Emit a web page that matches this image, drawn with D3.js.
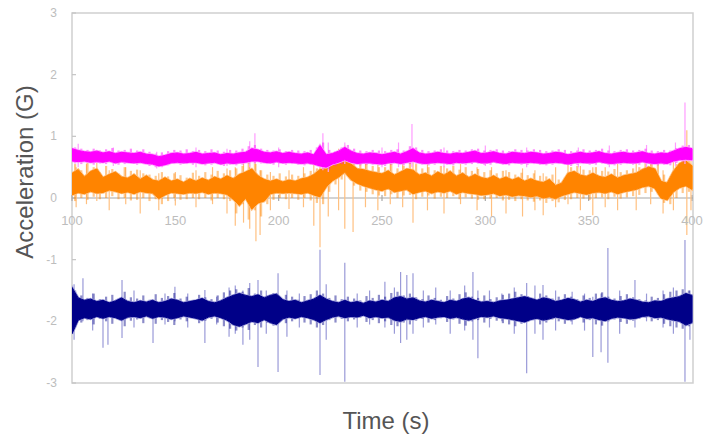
<!DOCTYPE html>
<html><head><meta charset="utf-8">
<script src="https://cdn.jsdelivr.net/npm/d3@7"></script>
<style>html,body{margin:0;padding:0;background:#fff;}svg{display:block;}</style>
</head><body>
<svg id="c" width="705" height="437"></svg>
<script>
// ---------- DATA ----------
const tStart = 100, tEnd = 400, tStep = 3;
const times = d3.range(tStart, tEnd + 0.1, tStep);        // core-band sampling grid, 101 stamps
const fuzzTimes = d3.range(tStart + 1.5, tEnd, tStep);    // in-between stamps, 100
const xTicks = [100, 150, 200, 250, 300, 350, 400];
const yTicks = [3, 2, 1, 0, -1, -2, -3];

// core band (upper / lower envelope) per series
const magentaHi = [0.80,0.77,0.75,0.74,0.76, 0.73,0.75,0.72,0.74,0.73, 0.72,0.74,0.71,0.70,0.67, 0.69,0.72,0.73,0.71,0.72,
  0.74,0.71,0.72,0.73,0.70, 0.72,0.71,0.73,0.74,0.80, 0.78,0.74,0.73,0.75,0.72, 0.74,0.72,0.71,0.73,0.70,
  0.85,0.70,0.72,0.76,0.82, 0.76,0.72,0.71,0.73,0.72, 0.70,0.72,0.74,0.71,0.75, 0.80,0.73,0.71,0.72,0.74,
  0.72,0.71,0.73,0.72,0.74, 0.76,0.72,0.73,0.75,0.72, 0.71,0.74,0.73,0.72,0.74, 0.73,0.71,0.72,0.74,0.73,
  0.70,0.72,0.74,0.72,0.73, 0.75,0.72,0.71,0.73,0.74, 0.72,0.73,0.75,0.72,0.71, 0.73,0.72,0.76,0.80,0.82, 0.80];
const magentaLo = [0.60,0.59,0.60,0.58,0.59, 0.58,0.60,0.57,0.59,0.58, 0.57,0.58,0.56,0.55,0.52, 0.54,0.57,0.58,0.57,0.58,
  0.58,0.56,0.57,0.58,0.55, 0.57,0.56,0.57,0.58,0.60, 0.60,0.58,0.57,0.59,0.57, 0.58,0.57,0.56,0.57,0.55,
  0.52,0.50,0.55,0.58,0.62, 0.58,0.56,0.57,0.57,0.56, 0.55,0.57,0.58,0.56,0.58, 0.60,0.57,0.56,0.57,0.58,
  0.57,0.56,0.58,0.57,0.58, 0.59,0.57,0.57,0.59,0.57, 0.56,0.58,0.57,0.57,0.58, 0.57,0.56,0.57,0.58,0.57,
  0.55,0.57,0.58,0.57,0.57, 0.59,0.57,0.56,0.57,0.58, 0.57,0.57,0.59,0.57,0.56, 0.57,0.56,0.60,0.62,0.63, 0.62];

const orangeHi = [0.40,0.46,0.34,0.43,0.47, 0.33,0.38,0.42,0.34,0.32, 0.38,0.30,0.36,0.29,0.27, 0.33,0.27,0.30,0.25,0.31,
  0.27,0.32,0.28,0.34,0.30, 0.36,0.31,0.38,0.42,0.47, 0.36,0.30,0.27,0.30,0.26, 0.29,0.27,0.31,0.33,0.38,
  0.46,0.47,0.55,0.60,0.68, 0.55,0.47,0.46,0.43,0.41, 0.39,0.44,0.37,0.42,0.47, 0.45,0.37,0.40,0.35,0.42,
  0.37,0.43,0.35,0.40,0.33, 0.38,0.33,0.31,0.36,0.30, 0.34,0.29,0.33,0.27,0.31, 0.27,0.25,0.30,0.20,0.24,
  0.40,0.43,0.37,0.35,0.40, 0.35,0.33,0.38,0.32,0.36, 0.38,0.40,0.46,0.50,0.47, 0.27,0.24,0.43,0.56,0.60, 0.52];
const orangeLo = [0.05,0.09,0.07,0.11,0.08, 0.09,0.13,0.11,0.08,0.10, 0.07,0.11,0.09,0.08,-0.01, 0.05,0.09,0.08,0.07,0.09,
  0.08,0.10,0.07,0.09,0.08, 0.06,-0.02,-0.12,0.00,-0.18, -0.08,-0.05,0.07,0.09,0.08, 0.09,0.08,0.07,0.09,0.05,
  0.02,0.18,0.28,0.34,0.42, 0.30,0.24,0.20,0.17,0.14, 0.12,0.16,0.10,0.12,0.14, 0.07,0.10,0.12,0.08,0.11,
  0.09,0.12,0.07,0.10,0.08, 0.07,0.05,0.06,0.08,0.04, 0.06,0.03,0.05,0.04,0.02, 0.04,0.00,0.02,-0.01,0.04,
  0.07,0.10,0.08,0.06,0.09, 0.10,0.08,0.11,0.07,0.10, 0.12,0.14,0.18,0.20,0.16, 0.00,-0.03,0.10,0.17,0.20, 0.14];

const navyHi = [-1.45,-1.62,-1.66,-1.64,-1.68, -1.66,-1.70,-1.67,-1.62,-1.68, -1.70,-1.67,-1.69,-1.66,-1.70, -1.68,-1.64,-1.66,-1.70,-1.68,
  -1.66,-1.63,-1.68,-1.70,-1.67, -1.62,-1.58,-1.55,-1.58,-1.60, -1.57,-1.62,-1.58,-1.56,-1.65, -1.68,-1.66,-1.70,-1.67,-1.64,
  -1.58,-1.64,-1.68,-1.70,-1.66, -1.70,-1.68,-1.71,-1.67,-1.69, -1.66,-1.68,-1.62,-1.60,-1.64, -1.62,-1.67,-1.69,-1.66,-1.68,
  -1.70,-1.66,-1.68,-1.64,-1.62, -1.66,-1.69,-1.68,-1.70,-1.67, -1.66,-1.64,-1.62,-1.60,-1.63, -1.66,-1.62,-1.64,-1.68,-1.66,
  -1.63,-1.65,-1.69,-1.66,-1.68, -1.64,-1.62,-1.66,-1.68,-1.67, -1.64,-1.66,-1.69,-1.70,-1.67, -1.68,-1.64,-1.62,-1.60,-1.55, -1.58];
const navyLo = [-2.20,-1.98,-1.94,-1.96,-1.92, -1.95,-1.92,-1.94,-1.98,-1.93, -1.92,-1.94,-1.91,-1.95,-1.92, -1.93,-1.96,-1.94,-1.91,-1.93,
  -1.95,-1.98,-1.93,-1.91,-1.94, -1.98,-2.05,-2.08,-2.04,-2.00, -2.02,-1.97,-2.02,-2.05,-1.96, -1.93,-1.95,-1.92,-1.94,-1.97,
  -2.02,-1.97,-1.93,-1.91,-1.94, -1.92,-1.93,-1.90,-1.94,-1.92, -1.94,-1.93,-1.98,-2.00,-1.96, -1.97,-1.94,-1.92,-1.95,-1.93,
  -1.92,-1.95,-1.93,-1.96,-1.98, -1.95,-1.92,-1.93,-1.91,-1.94, -1.95,-1.97,-1.99,-2.01,-1.97, -1.95,-1.98,-1.96,-1.93,-1.95,
  -1.97,-1.96,-1.92,-1.95,-1.94, -1.97,-1.99,-1.95,-1.93,-1.94, -1.96,-1.95,-1.92,-1.91,-1.94, -1.93,-1.96,-1.98,-2.00,-2.06, -2.02];

// noisy fringe (upper / lower reach) at the in-between stamps
const magentaFzHi = [0.82,0.80,0.78,0.80,0.77,0.79,0.81,0.77,0.78,0.80, 0.77,0.79,0.75,0.72,0.74,0.76,0.78,0.77,0.79,0.76,
  0.78,0.76,0.79,0.77,0.75,0.78,0.77,0.80,0.84,0.86, 0.80,0.78,0.77,0.79,0.76,0.78,0.77,0.76,0.78,0.82,
  0.90,0.78,0.76,0.82,0.86,0.80,0.77,0.76,0.78,0.77, 0.76,0.78,0.79,0.77,0.84,0.82,0.78,0.76,0.77,0.79,
  0.77,0.76,0.78,0.77,0.79,0.80,0.77,0.78,0.79,0.77, 0.76,0.79,0.78,0.77,0.79,0.78,0.76,0.77,0.79,0.78,
  0.76,0.77,0.79,0.77,0.78,0.80,0.77,0.76,0.78,0.79, 0.77,0.78,0.80,0.77,0.76,0.78,0.77,0.81,0.85,0.86];
const magentaFzLo = [0.56,0.55,0.57,0.54,0.56,0.55,0.57,0.54,0.55,0.56, 0.54,0.55,0.52,0.50,0.50,0.53,0.55,0.54,0.55,0.54,
  0.55,0.53,0.54,0.55,0.52,0.54,0.53,0.54,0.56,0.57, 0.56,0.55,0.54,0.56,0.54,0.55,0.54,0.53,0.54,0.52,
  0.48,0.47,0.52,0.55,0.58,0.55,0.53,0.54,0.54,0.53, 0.52,0.54,0.55,0.53,0.55,0.56,0.54,0.53,0.54,0.55,
  0.54,0.53,0.55,0.54,0.55,0.56,0.54,0.54,0.56,0.54, 0.53,0.55,0.54,0.54,0.55,0.54,0.53,0.54,0.55,0.54,
  0.52,0.54,0.55,0.54,0.54,0.56,0.54,0.53,0.54,0.55, 0.54,0.54,0.56,0.54,0.53,0.54,0.53,0.57,0.59,0.60];

const orangeFzHi = [0.55,0.45,0.58,0.50,0.42,0.52,0.47,0.40,0.50,0.44, 0.46,0.40,0.38,0.36,0.42,0.35,0.40,0.37,0.33,0.41,
  0.36,0.42,0.38,0.44,0.40,0.45,0.48,0.52,0.60,0.58, 0.45,0.38,0.36,0.40,0.35,0.38,0.36,0.40,0.44,0.48,
  0.58,0.62,0.70,0.78,0.75,0.62,0.58,0.55,0.52,0.50, 0.50,0.55,0.48,0.52,0.60,0.55,0.48,0.50,0.45,0.52,
  0.48,0.52,0.46,0.50,0.44,0.47,0.42,0.45,0.40,0.44, 0.42,0.38,0.41,0.37,0.40,0.36,0.35,0.38,0.30,0.34,
  0.50,0.52,0.46,0.45,0.50,0.44,0.43,0.47,0.42,0.45, 0.48,0.50,0.56,0.58,0.55,0.38,0.35,0.55,0.66,0.70];
const orangeFzLo = [-0.05,0.00,-0.03,0.02,-0.02,0.00,0.03,-0.02,0.00,-0.04, -0.03,0.00,-0.05,-0.02,-0.10,-0.05,0.00,-0.03,-0.02,0.00,
  -0.02,0.00,-0.04,0.00,-0.02,-0.05,-0.25,-0.10,-0.35,-0.20, -0.30,-0.10,-0.03,0.00,-0.02,0.00,-0.03,0.00,-0.04,-0.08,
  -0.10,0.10,0.22,0.30,0.35,0.20,0.12,0.10,0.06,0.04, 0.03,0.06,0.00,0.04,0.05,-0.02,0.02,0.04,-0.01,0.02,
  0.00,0.03,-0.02,0.01,-0.01,-0.03,-0.02,-0.01,0.00,-0.04, -0.03,-0.05,-0.02,-0.04,-0.06,-0.04,-0.08,-0.05,-0.07,-0.03,
  -0.02,0.00,-0.01,-0.03,0.00,0.01,-0.02,0.02,-0.01,0.01, 0.03,0.05,0.08,0.10,0.06,-0.08,-0.10,0.00,0.08,0.10];

const navyFzHi = [-1.50,-1.58,-1.62,-1.55,-1.64,-1.60,-1.57,-1.66,-1.52,-1.61, -1.63,-1.58,-1.65,-1.56,-1.62,-1.59,-1.54,-1.63,-1.60,-1.66,
  -1.57,-1.61,-1.64,-1.58,-1.53,-1.50,-1.48,-1.52,-1.46,-1.55, -1.50,-1.58,-1.54,-1.62,-1.57,-1.60,-1.65,-1.59,-1.56,-1.50,
  -1.55,-1.62,-1.58,-1.64,-1.60,-1.63,-1.66,-1.59,-1.62,-1.57, -1.60,-1.54,-1.52,-1.58,-1.55,-1.61,-1.64,-1.58,-1.62,-1.65,
  -1.59,-1.63,-1.56,-1.53,-1.60,-1.62,-1.58,-1.64,-1.61,-1.57, -1.55,-1.52,-1.56,-1.59,-1.62,-1.55,-1.58,-1.63,-1.60,-1.56,
  -1.60,-1.64,-1.58,-1.62,-1.55,-1.53,-1.60,-1.63,-1.59,-1.56, -1.61,-1.64,-1.66,-1.60,-1.62,-1.56,-1.52,-1.50,-1.48,-1.50];
const navyFzLo = [-2.10,-2.02,-1.98,-2.05,-1.96,-2.00,-2.04,-1.95,-2.08,-1.99, -1.97,-2.03,-1.95,-2.04,-1.98,-2.01,-2.06,-1.97,-2.00,-1.94,
  -2.03,-1.99,-1.96,-2.02,-2.08,-2.12,-2.15,-2.10,-2.14,-2.06, -2.10,-2.02,-2.07,-1.98,-2.03,-2.00,-1.95,-2.02,-2.05,-2.10,
  -2.06,-1.98,-2.02,-1.96,-2.00,-1.97,-1.94,-2.01,-1.98,-2.03, -2.00,-2.06,-2.08,-2.02,-2.05,-1.99,-1.96,-2.02,-1.98,-1.95,
  -2.01,-1.97,-2.04,-2.07,-2.00,-1.98,-2.02,-1.96,-1.99,-2.03, -2.05,-2.08,-2.04,-2.01,-1.98,-2.05,-2.02,-1.97,-2.00,-2.04,
  -2.00,-1.96,-2.02,-1.98,-2.05,-2.07,-2.00,-1.97,-2.01,-2.04, -1.99,-1.96,-1.94,-2.00,-1.98,-2.04,-2.08,-2.10,-2.12,-2.08];

// isolated spikes: [time, low, high]
const magentaSpikes = [[103,0.5,0.88],[120,0.52,0.82],[141,0.48,0.75],[160,0.5,0.82],[175,0.52,0.8],[186,0.5,0.92],
  [188.5,0.55,1.05],[200,0.5,0.82],[221.4,0.45,1.05],[224,0.42,0.9],[232,0.55,0.9],[250,0.5,0.82],[258,0.5,0.9],
  [264.5,0.5,1.2],[280,0.5,0.82],[300,0.52,0.85],[320,0.5,0.82],[345,0.5,0.82],[360,0.5,0.85],[378,0.5,0.86],
  [392,0.52,0.9],[396.6,0.55,1.55]];
const orangeSpikes = [[102,-0.15,0.5],[107,-0.1,0.55],[112,-0.05,0.6],[118,-0.2,0.45],[126,-0.1,0.5],[133,-0.25,0.45],
  [142,-0.2,0.4],[150,-0.12,0.42],[160,-0.15,0.45],[168,-0.1,0.5],[175,-0.25,0.48],[179,-0.45,0.5],[183,-0.4,0.6],
  [186,-0.5,0.8],[189,-0.7,0.55],[191,-0.6,0.45],[196,-0.2,0.42],[205,-0.18,0.45],[212,-0.15,0.5],[217,-0.45,0.55],
  [220,-0.8,0.75],[224,-0.3,0.68],[229,-0.2,0.8],[232,-0.5,0.85],[236,-0.55,0.7],[242,-0.15,0.6],[248,-0.2,0.55],
  [254,-0.1,0.6],[260,-0.15,0.65],[265,-0.4,0.7],[272,-0.2,0.55],[280,-0.25,0.52],[288,-0.1,0.55],[296,-0.2,0.5],
  [303,-0.3,0.5],[310,-0.25,0.45],[318,-0.3,0.48],[324,-0.2,0.45],[328,-0.28,0.4],[334,-0.15,0.5],[340,-0.1,0.55],
  [346,-0.2,0.52],[352,-0.28,0.5],[358,-0.15,0.5],[364,-0.2,0.55],[373,-0.2,0.6],[380,-0.1,0.62],[386,-0.25,0.45],
  [391,-0.2,0.6],[397.5,-0.6,1.1],[399.5,-0.2,0.75]];
const navySpikes = [[101,-2.3,-1.4],[105.3,-2.0,-1.3],[110,-2.15,-1.55],[115,-2.43,-1.7],[117.4,-2.38,-1.7],[124.2,-2.27,-1.33],
  [130,-2.1,-1.5],[139.2,-2.35,-1.65],[145,-2.05,-1.55],[149.8,-2.0,-1.44],[156,-2.1,-1.55],[164.3,-2.35,-1.49],
  [170,-2.05,-1.6],[176,-2.25,-1.45],[179,-2.2,-1.42],[182.7,-2.38,-1.5],[186,-2.3,-1.38],[190,-2.74,-1.33],
  [194,-2.2,-1.5],[199.7,-2.82,-1.22],[204,-2.25,-1.5],[210,-2.1,-1.55],[220,-2.87,-0.84],[223,-2.3,-1.4],
  [232,-2.98,-1.05],[238,-2.1,-1.55],[244,-2.05,-1.5],[251.4,-2.1,-1.36],[256,-2.2,-1.45],[259,-2.35,-1.2],
  [262,-2.3,-1.25],[265,-2.2,-1.22],[270,-2.1,-1.5],[276,-2.05,-1.45],[283,-2.2,-1.5],[290,-2.15,-1.42],
  [294,-2.3,-1.2],[296.4,-2.6,-1.5],[302,-2.1,-1.5],[308,-2.0,-1.55],[314,-2.2,-1.45],[320,-2.84,-1.38],
  [324,-2.2,-1.42],[327.9,-2.3,-1.41],[334,-2.15,-1.5],[342,-2.05,-1.52],[348,-2.15,-1.55],[352,-2.58,-1.6],
  [356,-2.5,-1.55],[359.3,-2.67,-0.81],[365,-2.2,-1.5],[372.4,-2.1,-1.33],[378,-2.0,-1.55],[386,-2.1,-1.5],
  [391,-2.2,-1.45],[396.6,-2.98,-0.68],[399,-2.3,-1.5]];

// ---------- DRAWING ----------
const svg = d3.select('#c');
const pL = 72, pR = 693, pT = 13, pB = 383;
const x = d3.scaleLinear().domain([tStart, tEnd]).range([pL, pR - 1]);
const y = d3.scaleLinear().domain([-3, 3]).range([pB, pT]);
const FONT = "Arial, 'Liberation Sans', sans-serif";

const defs = svg.append('defs');
defs.append('filter').attr('id', 'soft').append('feGaussianBlur').attr('stdDeviation', 0.6);
defs.append('clipPath').attr('id', 'plotclip').append('rect')
  .attr('x', pL).attr('y', pT).attr('width', pR - pL).attr('height', pB - pT + 1);

// plot frame
svg.append('rect').attr('x', pL).attr('y', pT).attr('width', pR - pL).attr('height', pB - pT)
  .attr('fill', 'none').attr('stroke', '#cfcfcf').attr('stroke-width', 1.5);

// y ticks & labels
svg.append('g').selectAll('line').data(yTicks).join('line')
  .attr('x1', pL).attr('x2', pL + 4).attr('y1', d => y(d)).attr('y2', d => y(d))
  .attr('stroke', '#c4c4c4').attr('stroke-width', 1.2);
svg.append('g').selectAll('text').data(yTicks).join('text')
  .attr('x', 57).attr('y', d => y(d) + 4).attr('text-anchor', 'end')
  .attr('font-family', FONT).attr('font-size', 12).attr('fill', '#bdbdbd').text(d => d);

// zero line (x axis)
svg.append('line').attr('x1', pL).attr('x2', pR).attr('y1', y(0)).attr('y2', y(0))
  .attr('stroke', '#a8a8a8').attr('stroke-width', 1.2);
svg.append('g').selectAll('line').data(xTicks).join('line')
  .attr('x1', d => x(d)).attr('x2', d => x(d)).attr('y1', y(0) - 3).attr('y2', y(0) + 3)
  .attr('stroke', '#a8a8a8').attr('stroke-width', 1.2);

// data
const plot = svg.append('g').attr('clip-path', 'url(#plotclip)').append('g').attr('filter', 'url(#soft)');
function series(hi, lo, fzHi, fzLo, spikes, color, pale) {
  const g = plot.append('g');
  g.append('g').selectAll('line').data(spikes).join('line')
    .attr('x1', d => x(d[0])).attr('x2', d => x(d[0]))
    .attr('y1', d => y(d[1])).attr('y2', d => y(d[2]))
    .attr('stroke', pale).attr('stroke-width', 1.2);
  g.append('g').selectAll('line').data(fuzzTimes).join('line')
    .attr('x1', d => x(d)).attr('x2', d => x(d))
    .attr('y1', (d, i) => y(fzLo[i])).attr('y2', (d, i) => y(fzHi[i]))
    .attr('stroke', color).attr('stroke-opacity', 0.45).attr('stroke-width', 2.2);
  const area = d3.area().x((d, i) => x(times[i])).y0((d, i) => y(lo[i])).y1((d, i) => y(hi[i]));
  g.append('path').datum(hi).attr('d', area).attr('fill', pale).attr('stroke', pale).attr('stroke-width', 2.5);
  g.append('path').datum(hi).attr('d', area).attr('fill', color).attr('stroke', color).attr('stroke-width', 1);
}
series(navyHi, navyLo, navyFzHi, navyFzLo, navySpikes, '#000088', '#9a9ad8');
series(orangeHi, orangeLo, orangeFzHi, orangeFzLo, orangeSpikes, '#ff8400', '#ffc080');
series(magentaHi, magentaLo, magentaFzHi, magentaFzLo, magentaSpikes, '#ff00ff', '#ff9cff');

// x tick labels (drawn over data, along zero line)
svg.append('g').selectAll('text').data(xTicks).join('text')
  .attr('x', d => x(d)).attr('y', y(0) + 27).attr('text-anchor', 'middle')
  .attr('font-family', FONT).attr('font-size', 13).attr('fill', '#bdbdbd').text(d => d);

// axis titles
svg.append('text').attr('transform', 'translate(33,172) rotate(-90)').attr('text-anchor', 'middle')
  .attr('font-family', FONT).attr('font-size', 24).attr('fill', '#555').text('Acceleration (G)');
svg.append('text').attr('x', 386).attr('y', 429).attr('text-anchor', 'middle')
  .attr('font-family', FONT).attr('font-size', 24).attr('fill', '#555').text('Time (s)');
</script>
</body></html>
